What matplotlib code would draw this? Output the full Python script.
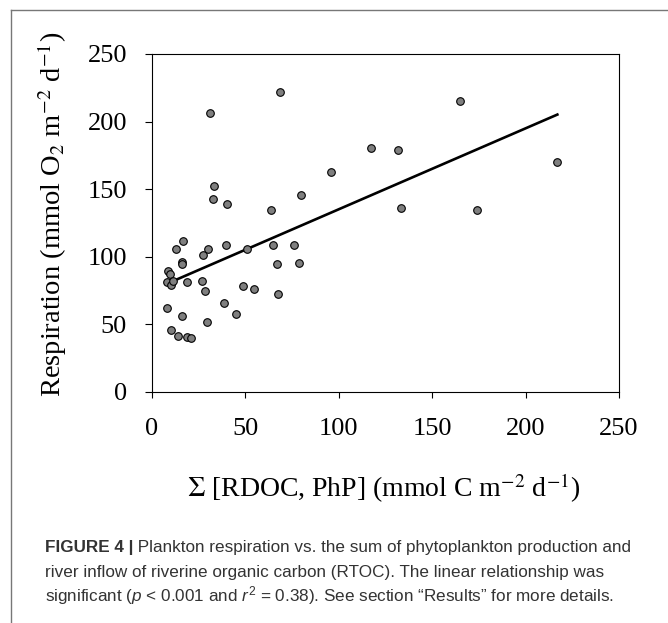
import numpy as np
import matplotlib
matplotlib.use("Agg")
import matplotlib.pyplot as plt
from matplotlib.lines import Line2D

# values
rdoc_php = [31.0, 68.5, 33.2, 32.5, 40.1, 63.7, 117.2, 131.7, 96.0, 79.8,
            133.3, 64.6, 76.2, 66.7, 78.9, 165.1, 216.8, 173.8, 16.4, 12.8,
            29.8, 27.5, 39.8, 51.0, 16.1, 16.2, 8.7, 9.6, 7.9, 10.0,
            11.1, 18.9, 26.6, 28.5, 48.5, 54.8, 67.3, 8.2, 16.1, 38.4,
            45.0, 29.3, 10.0, 14.1, 18.6, 20.9]
respiration = [206.4, 222.2, 152.6, 142.7, 139.3, 134.8, 180.2, 179.3, 162.5, 145.4,
               136.3, 108.4, 108.4, 94.6, 95.5, 215.3, 170.4, 134.3, 111.6, 105.4,
               105.4, 101.5, 108.4, 105.4, 96.5, 94.6, 89.6, 87.2, 81.7, 79.3,
               82.2, 81.5, 82.2, 74.6, 78.5, 76.5, 72.6, 62.5, 56.3, 65.7,
               57.5, 51.6, 45.9, 41.7, 40.5, 39.8]

# regression line as drawn
fit_x = [8.7, 217.0]
fit_y = [80.5, 205.2]

ticks = [0, 50, 100, 150, 200, 250]

caption_bold = "FIGURE 4 |"
caption_lines = [
    " Plankton respiration vs. the sum of phytoplankton production and",
    "river inflow of riverine organic carbon (RTOC). The linear relationship was",
    "significant ($p$ < 0.001 and $r^2$ = 0.38). See section \u201cResults\u201d for more details.",
]

plt.rcParams['mathtext.fontset'] = 'custom'
plt.rcParams['mathtext.rm'] = 'Liberation Sans'
plt.rcParams['mathtext.it'] = 'Liberation Sans:italic'

W, H = 668, 623
fig = plt.figure(figsize=(W / 100, H / 100), dpi=100)
ax = fig.add_axes([152 / W, (H - 392) / H, (619 - 152) / W, (392 - 54) / H])

ax.scatter(rdoc_php, respiration, s=30, facecolor='#7f7f7f', edgecolor='black',
           linewidth=0.8, zorder=3)
ax.plot(fit_x, fit_y, color='black', linewidth=1.9, zorder=2)

ax.set_xlim(0, 250)
ax.set_ylim(0, 250)
ax.set_xticks(ticks)
ax.set_yticks(ticks)
serif = 'Liberation Serif'
ax.set_xticklabels([str(t) for t in ticks], family=serif, fontsize=19)
ax.set_yticklabels([str(t) for t in ticks], family=serif, fontsize=19)
ax.tick_params(axis='x', direction='out', length=4, width=0.8, pad=15)
ax.tick_params(axis='y', direction='out', length=5, width=0.8, pad=13)
for sp in ax.spines.values():
    sp.set_linewidth(0.8)

fig.text(52 / W, (H - 214) / H, r'Respiration (mmol O$_2$ m$^{-2}$ d$^{-1}$)',
         rotation=90, ha='center', va='center', family=serif, fontsize=20.5,
         math_fontfamily='stix')
fig.text(384 / W, (H - 497) / H, r'$\Sigma$ [RDOC, PhP] (mmol C m$^{-2}$ d$^{-1}$)',
         ha='center', va='baseline', family=serif, fontsize=20,
         math_fontfamily='stix')

# outer frame (top and left edges visible)
fig.add_artist(Line2D([11 / W, 1.0], [(H - 10) / H, (H - 10) / H],
                      transform=fig.transFigure, color='#777777', linewidth=1.0))
fig.add_artist(Line2D([11 / W, 11 / W], [(H - 10) / H, 0.0],
                      transform=fig.transFigure, color='#777777', linewidth=1.0))

# caption
cap_color = '#333333'
cap_size = 12.3
x0 = 45 / W
baselines = [552, 577, 601]
tb = fig.text(x0, (H - baselines[0]) / H, caption_bold, family='Liberation Sans',
              fontsize=cap_size, fontweight='bold', color=cap_color, va='baseline')
fig.canvas.draw()
bb = tb.get_window_extent()
fig.text(bb.x1 / W, (H - baselines[0]) / H, caption_lines[0], family='Liberation Sans',
         fontsize=cap_size, color=cap_color, va='baseline')
for line, yb in zip(caption_lines[1:], baselines[1:]):
    fig.text(x0, (H - yb) / H, line, family='Liberation Sans', fontsize=cap_size,
             color=cap_color, va='baseline', math_fontfamily='custom')

fig.savefig('out.png', dpi=100)
